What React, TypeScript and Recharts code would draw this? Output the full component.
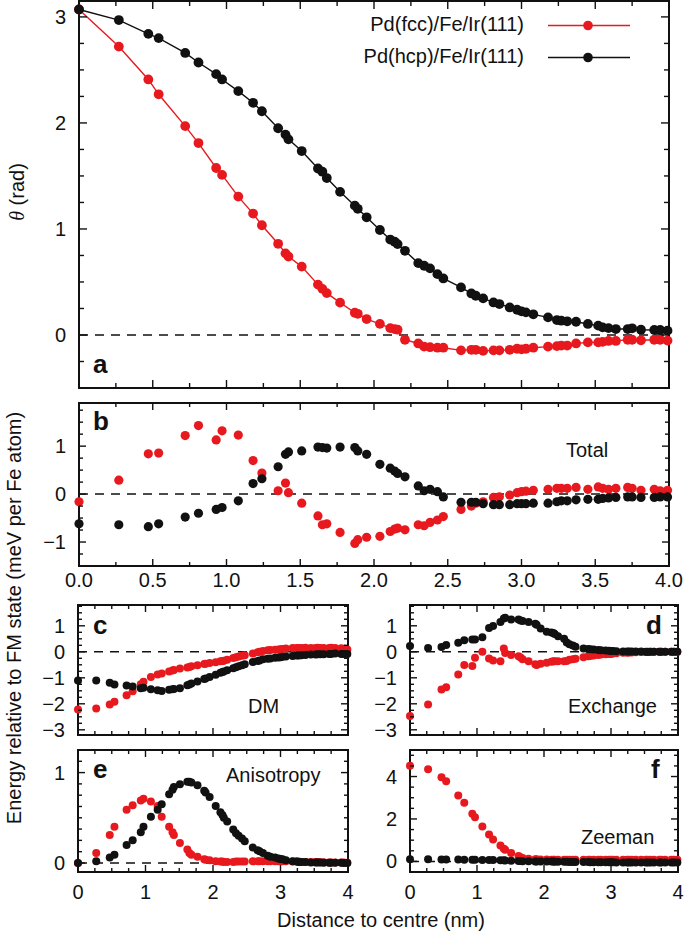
import { ScatterChart, Scatter, XAxis, YAxis, ReferenceLine, ReferenceArea, Legend } from "recharts";

// distance of each Fe site from the skyrmion centre (nm)
const dist = [
  0, 0.27, 0.47, 0.54, 0.72, 0.81, 0.93, 0.97, 1.08, 1.18, 1.24, 1.35, 1.4, 1.42, 1.51, 1.62, 1.65, 1.68, 1.77, 1.87,
  1.89, 1.95, 2.04, 2.11, 2.14, 2.16, 2.21, 2.3, 2.34, 2.38, 2.43, 2.47, 2.59, 2.66, 2.69, 2.74, 2.81, 2.85, 2.92, 2.97,
  3.0, 3.03, 3.08, 3.18, 3.24, 3.27, 3.31, 3.37, 3.45, 3.52, 3.55, 3.59, 3.64, 3.72, 3.75, 3.81, 3.9, 3.94, 3.99,
];

// a: polar angle (rad)
const thetaFcc = [
  3.07, 2.72, 2.41, 2.27, 1.97, 1.81, 1.575, 1.51, 1.305, 1.145, 1.035, 0.86, 0.77, 0.74, 0.645, 0.475, 0.435, 0.395, 0.305, 0.21,
  0.2, 0.15, 0.105, 0.065, 0.055, 0.05, -0.045, -0.08, -0.11, -0.115, -0.12, -0.12, -0.145, -0.14, -0.14, -0.15, -0.145, -0.145, -0.14, -0.13,
  -0.135, -0.13, -0.12, -0.11, -0.105, -0.1, -0.1, -0.08, -0.07, -0.07, -0.065, -0.056, -0.056, -0.045, -0.045, -0.05, -0.045, -0.045, -0.053,
];
const thetaHcp = [
  3.07, 2.97, 2.84, 2.8, 2.66, 2.57, 2.46, 2.41, 2.3, 2.19, 2.11, 1.95, 1.89, 1.845, 1.735, 1.57, 1.54, 1.48, 1.35, 1.22,
  1.19, 1.11, 0.99, 0.9, 0.88, 0.857, 0.794, 0.678, 0.653, 0.628, 0.574, 0.533, 0.449, 0.392, 0.37, 0.345, 0.307, 0.292, 0.26, 0.238,
  0.223, 0.213, 0.195, 0.166, 0.141, 0.135, 0.129, 0.125, 0.104, 0.088, 0.072, 0.065, 0.056, 0.056, 0.063, 0.05, 0.047, 0.047, 0.041,
];

// b: total energy (meV per Fe atom)
const totalFcc = [
  -0.16, 0.29, 0.84, 0.855, 1.22, 1.43, 1.13, 1.32, 1.23, 0.7, 0.44, 0.07, 0.23, 0.03, -0.19, -0.455, -0.64, -0.62, -0.8, -1.03,
  -0.95, -0.9, -0.88, -0.78, -0.73, -0.71, -0.745, -0.64, -0.66, -0.59, -0.54, -0.47, -0.32, -0.25, -0.19, -0.16, -0.07, -0.055, -0.02, 0.03,
  0.05, 0.06, 0.08, 0.1, 0.12, 0.12, 0.12, 0.14, 0.1, 0.15, 0.12, 0.1, 0.12, 0.14, 0.12, 0.08, 0.1, 0.07, 0.08,
];
const totalHcp = [
  -0.62, -0.64, -0.68, -0.62, -0.48, -0.4, -0.32, -0.28, -0.14, 0.22, 0.32, 0.57, 0.83, 0.88, 0.9, 0.98, 0.97, 0.96, 0.98, 0.97,
  0.9, 0.83, 0.62, 0.54, 0.48, 0.43, 0.36, 0.17, 0.07, 0.1, 0.05, -0.06, -0.17, -0.17, -0.17, -0.2, -0.22, -0.22, -0.22, -0.2,
  -0.2, -0.2, -0.19, -0.19, -0.16, -0.14, -0.14, -0.12, -0.11, -0.11, -0.09, -0.08, -0.07, -0.06, -0.06, -0.07, -0.07, -0.06, -0.06,
];

// c: DM
const dmFcc = [
  -2.22, -2.18, -2.03, -1.92, -1.67, -1.52, -1.25, -1.15, -0.97, -0.87, -0.83, -0.76, -0.72, -0.7, -0.64, -0.6, -0.58, -0.56, -0.52, -0.47,
  -0.46, -0.43, -0.4, -0.36, -0.35, -0.34, -0.31, -0.24, -0.21, -0.18, -0.15, -0.13, -0.07, -0.02, 0, 0.03, 0.06, 0.07, 0.08, 0.09,
  0.1, 0.11, 0.13, 0.15, 0.15, 0.15, 0.15, 0.16, 0.15, 0.15, 0.16, 0.15, 0.15, 0.15, 0.16, 0.15, 0.14, 0.12, 0.09,
];
const dmHcp = [
  -1.1, -1.1, -1.19, -1.26, -1.3, -1.33, -1.4, -1.38, -1.44, -1.48, -1.51, -1.46, -1.44, -1.43, -1.4, -1.29, -1.26, -1.22, -1.14, -1.05,
  -1.03, -0.97, -0.88, -0.81, -0.78, -0.76, -0.71, -0.63, -0.59, -0.56, -0.52, -0.48, -0.39, -0.35, -0.33, -0.29, -0.27, -0.26, -0.23, -0.22,
  -0.21, -0.19, -0.18, -0.16, -0.14, -0.14, -0.13, -0.12, -0.1, -0.1, -0.09, -0.09, -0.09, -0.08, -0.08, -0.07, -0.08, -0.08, -0.08,
];

// d: exchange
const exFcc = [
  -2.47, -2.03, -1.45, -1.36, -0.87, -0.51, -0.55, -0.23, 0, -0.26, -0.33, -0.36, 0.13, -0.05, -0.12, -0.17, -0.22, -0.29, -0.36, -0.48,
  -0.51, -0.46, -0.42, -0.38, -0.36, -0.36, -0.36, -0.36, -0.35, -0.31, -0.29, -0.27, -0.21, -0.17, -0.16, -0.14, -0.12, -0.1, -0.09, -0.08,
  -0.08, -0.07, -0.06, -0.04, -0.04, -0.03, -0.03, -0.02, -0.01, -0.01, -0.01, 0, 0, 0, 0, 0, 0, 0, 0,
];
const exHcp = [
  0.22, 0.15, 0.18, 0.26, 0.35, 0.44, 0.47, 0.47, 0.56, 0.92, 0.99, 1.15, 1.28, 1.31, 1.24, 1.24, 1.2, 1.18, 1.15, 1.08,
  1.04, 0.9, 0.77, 0.74, 0.72, 0.68, 0.6, 0.5, 0.36, 0.29, 0.24, 0.19, 0.13, 0.11, 0.1, 0.09, 0.07, 0.06, 0.05, 0.04,
  0.03, 0.03, 0.02, 0.01, 0.01, 0.01, 0.01, 0.01, 0.01, 0, 0, 0, 0, 0, 0, 0, 0, 0, 0,
];

// e: anisotropy
const anFcc = [
  0, 0.11, 0.31, 0.4, 0.59, 0.64, 0.69, 0.71, 0.68, 0.63, 0.51, 0.4, 0.34, 0.31, 0.22, 0.15, 0.11, 0.09, 0.07, 0.04,
  0.035, 0.03, 0.02, 0.015, 0.015, 0.012, 0.012, 0.012, 0.015, 0.015, 0.015, 0.015, 0.018, 0.018, 0.02, 0.02, 0.02, 0.02, 0.02, 0.02,
  0.018, 0.018, 0.018, 0.015, 0.015, 0.015, 0.012, 0.012, 0.01, 0.01, 0.01, 0.008, 0.008, 0.006, 0.006, 0.005, 0.004, 0.004, 0.003,
];
const anHcp = [
  0, 0.02, 0.06, 0.09, 0.2, 0.25, 0.34, 0.4, 0.51, 0.59, 0.65, 0.76, 0.81, 0.84, 0.87, 0.9, 0.9, 0.89, 0.86, 0.8,
  0.78, 0.73, 0.63, 0.56, 0.53, 0.5, 0.46, 0.37, 0.33, 0.3, 0.27, 0.24, 0.17, 0.14, 0.13, 0.11, 0.08, 0.07, 0.06, 0.05,
  0.045, 0.04, 0.03, 0.02, 0.015, 0.012, 0.01, 0.01, 0.005, 0.005, 0.004, 0.004, 0.003, 0.002, 0.002, 0.001, 0.001, 0, 0,
];

// f: Zeeman
const zeeFcc = [
  4.51, 4.34, 3.96, 3.78, 3.11, 2.76, 2.24, 2.08, 1.64, 1.27, 1.03, 0.75, 0.59, 0.55, 0.4, 0.25, 0.2, 0.16, 0.12, 0.1,
  0.1, 0.09, 0.09, 0.08, 0.08, 0.08, 0.08, 0.08, 0.08, 0.08, 0.08, 0.08, 0.08, 0.08, 0.08, 0.08, 0.08, 0.08, 0.08, 0.08,
  0.08, 0.08, 0.08, 0.08, 0.08, 0.08, 0.08, 0.08, 0.08, 0.08, 0.08, 0.08, 0.08, 0.08, 0.08, 0.08, 0.08, 0.08, 0.08,
];
const zeeHcp = [
  0.1, 0.1, 0.09, 0.09, 0.09, 0.08, 0.08, 0.08, 0.07, 0.07, 0.06, 0.05, 0.05, 0.04, 0.03, 0.02, 0.02, 0.01, 0.01, 0,
  0, 0, -0.01, -0.01, -0.01, -0.02, -0.02, -0.02, -0.02, -0.03, -0.03, -0.03, -0.03, -0.03, -0.04, -0.04, -0.04, -0.04, -0.04, -0.04,
  -0.04, -0.04, -0.05, -0.05, -0.05, -0.05, -0.05, -0.05, -0.05, -0.05, -0.05, -0.05, -0.05, -0.05, -0.05, -0.05, -0.05, -0.05, -0.05,
];

const RED = "#e8191e";
const INK = "#111";
const FONT = '"Liberation Sans", Arial, Helvetica, sans-serif';
const FS = 20;

const steps = (from: number, to: number, step: number) => {
  const out: number[] = [];
  for (let v = from; v <= to + 1e-9; v += step) out.push(+v.toFixed(4));
  return out;
};
const toPoints = (ys: number[]) => dist.map((x, i) => ({ x, y: ys[i] }));
const fmtNum = (v: number) => (v < 0 ? "\u2212" + Math.abs(v) : String(v));
const has = (list: number[], v: number) => list.some((m) => Math.abs(m - v) < 1e-6);

const PAD_L = 70;
const PAD_R = 24;
const PAD_T = 12;
const PAD_B = 40;

type PanelProps = {
  left: number;
  top: number;
  w: number;
  h: number;
  yDomain: [number, number];
  yMajor: number[];
  yMinor: number[];
  xMajor: number[];
  xMinor: number[];
  xLabel?: (v: number) => string;
  xGap?: number;
  majorLen: number;
  minorLen: number;
  fcc: number[];
  hcp: number[];
  r: number;
  joined?: boolean;
  legend?: boolean;
};

const Panel = (p: PanelProps) => {
  const xTicks = [...new Set([...p.xMajor, ...p.xMinor])].sort((a, b) => a - b);
  const yTicks = [...new Set([...p.yMajor, ...p.yMinor])].sort((a, b) => a - b);

  // gnuplot style: ticks point inwards and are mirrored on the opposite border
  const renderXTick = (t: any) => {
    const v = t.payload.value;
    const major = has(p.xMajor, v);
    const len = major ? p.majorLen : p.minorLen;
    return (
      <g key={`x${v}`}>
        <line x1={t.x} x2={t.x} y1={t.y} y2={t.y - len} stroke={INK} strokeWidth={1.4} />
        <line x1={t.x} x2={t.x} y1={t.y - p.h} y2={t.y - p.h + len} stroke={INK} strokeWidth={1.4} />
        {major && p.xLabel && (
          <text x={t.x} y={t.y + (p.xGap ?? 21)} textAnchor="middle" fontSize={FS} fontFamily={FONT} fill={INK}>
            {p.xLabel(v)}
          </text>
        )}
      </g>
    );
  };

  const renderYTick = (t: any) => {
    const v = t.payload.value;
    const major = has(p.yMajor, v);
    const len = major ? p.majorLen : p.minorLen;
    return (
      <g key={`y${v}`}>
        <line x1={t.x} x2={t.x + len} y1={t.y} y2={t.y} stroke={INK} strokeWidth={1.4} />
        <line x1={t.x + p.w} x2={t.x + p.w - len} y1={t.y} y2={t.y} stroke={INK} strokeWidth={1.4} />
        {major && (
          <text x={t.x - 13} y={t.y + 7} textAnchor="end" fontSize={FS} fontFamily={FONT} fill={INK}>
            {fmtNum(v)}
          </text>
        )}
      </g>
    );
  };

  const dot = (color: string) => (s: any) => <circle cx={s.cx} cy={s.cy} r={p.r} fill={color} />;

  const renderLegend = (props: any) => (
    <svg width={300} height={70}>
      {(props.payload || []).map((e: any, i: number) => {
        const base = 31 + 32 * i;
        return (
          <g key={e.value}>
            <text x={184} y={base} textAnchor="end" fontSize={FS} fontFamily={FONT} fill={INK}>
              {e.value}
            </text>
            <line x1={208} x2={290} y1={base - 5.5} y2={base - 5.5} stroke={e.color} strokeWidth={1.4} />
            <circle cx={248} cy={base - 5.5} r={4.8} fill={e.color} />
          </g>
        );
      })}
    </svg>
  );

  return (
    <div style={{ position: "absolute", left: p.left - PAD_L, top: p.top - PAD_T }}>
      <ScatterChart
        width={p.w + PAD_L + PAD_R}
        height={p.h + PAD_T + PAD_B}
        margin={{ top: PAD_T, right: PAD_R, bottom: 0, left: 0 }}
      >
        <XAxis
          type="number"
          dataKey="x"
          domain={[0, 4]}
          ticks={xTicks}
          interval={0}
          tickSize={0}
          tickMargin={0}
          tickLine={false}
          axisLine={false}
          height={PAD_B}
          tick={renderXTick}
        />
        <YAxis
          type="number"
          dataKey="y"
          domain={p.yDomain}
          ticks={yTicks}
          interval={0}
          width={PAD_L}
          tickSize={0}
          tickMargin={0}
          tickLine={false}
          axisLine={false}
          tick={renderYTick}
        />
        <ReferenceLine y={0} stroke={INK} strokeWidth={1.5} strokeDasharray="9 7" />
        <ReferenceArea
          x1={0}
          x2={4}
          y1={p.yDomain[0]}
          y2={p.yDomain[1]}
          fill="none"
          fillOpacity={0}
          stroke={INK}
          strokeWidth={2}
        />
        <Scatter
          name="Pd(fcc)/Fe/Ir(111)"
          data={toPoints(p.fcc)}
          fill={RED}
          shape={dot(RED)}
          line={p.joined ? { stroke: RED, strokeWidth: 1.4 } : false}
          isAnimationActive={false}
        />
        <Scatter
          name="Pd(hcp)/Fe/Ir(111)"
          data={toPoints(p.hcp)}
          fill={INK}
          shape={dot(INK)}
          line={p.joined ? { stroke: INK, strokeWidth: 1.4 } : false}
          isAnimationActive={false}
        />
        {p.legend && (
          <Legend
            layout="horizontal"
            verticalAlign="middle"
            align="center"
            wrapperStyle={{ left: 340 - (p.left - PAD_L), top: 0 - (p.top - PAD_T), width: 300, height: 70 }}
            content={renderLegend}
          />
        )}
      </ScatterChart>
    </div>
  );
};

const xMajorA = [0, 0.5, 1, 1.5, 2, 2.5, 3, 3.5, 4];
const xMinorA = steps(0, 4, 0.25);
const xMajorSmall = [0, 1, 2, 3, 4];
const xMinorSmall = steps(0, 4, 0.25);

const labelStyle = { fontFamily: FONT, fontSize: FS, fill: INK } as const;
const letterStyle = { fontFamily: FONT, fontSize: 26, fontWeight: 700, fill: INK } as const;

export default function App() {
  return (
    <div style={{ position: "absolute", left: 0, top: 0, width: 685, height: 931, background: "#fff", overflow: "hidden" }}>
      <Panel
        left={79}
        top={1}
        w={590}
        h={387}
        yDomain={[-0.5, 3.15]}
        yMajor={[0, 1, 2, 3]}
        yMinor={steps(-0.5, 3, 0.25)}
        xMajor={xMajorA}
        xMinor={xMinorA}
        majorLen={8}
        minorLen={5}
        fcc={thetaFcc}
        hcp={thetaHcp}
        r={4.9}
        joined
        legend
      />
      <Panel
        left={79}
        top={403}
        w={590}
        h={163}
        yDomain={[-1.5, 1.9]}
        yMajor={[-1, 0, 1]}
        yMinor={steps(-1.5, 1.75, 0.25)}
        xMajor={xMajorA}
        xMinor={xMinorA}
        xLabel={(v) => v.toFixed(1)}
        xGap={21}
        majorLen={7}
        minorLen={4}
        fcc={totalFcc}
        hcp={totalHcp}
        r={4.6}
      />
      <Panel
        left={78}
        top={605}
        w={270}
        h={130}
        yDomain={[-3.2, 1.8]}
        yMajor={[-3, -2, -1, 0, 1]}
        yMinor={steps(-3, 1.75, 0.25)}
        xMajor={xMajorSmall}
        xMinor={xMinorSmall}
        majorLen={7}
        minorLen={4}
        fcc={dmFcc}
        hcp={dmHcp}
        r={4}
      />
      <Panel
        left={410}
        top={605}
        w={268}
        h={130}
        yDomain={[-3.2, 1.8]}
        yMajor={[-3, -2, -1, 0, 1]}
        yMinor={steps(-3, 1.75, 0.25)}
        xMajor={xMajorSmall}
        xMinor={xMinorSmall}
        majorLen={7}
        minorLen={4}
        fcc={exFcc}
        hcp={exHcp}
        r={4}
      />
      <Panel
        left={78}
        top={750}
        w={270}
        h={122}
        yDomain={[-0.1, 1.25]}
        yMajor={[0, 1]}
        yMinor={steps(0, 1.25, 0.125)}
        xMajor={xMajorSmall}
        xMinor={xMinorSmall}
        xLabel={(v) => String(v)}
        xGap={27}
        majorLen={7}
        minorLen={4}
        fcc={anFcc}
        hcp={anHcp}
        r={4}
      />
      <Panel
        left={410}
        top={750}
        w={268}
        h={122}
        yDomain={[-0.5, 5.25]}
        yMajor={[0, 2, 4]}
        yMinor={steps(0, 5, 0.5)}
        xMajor={xMajorSmall}
        xMinor={xMinorSmall}
        xLabel={(v) => String(v)}
        xGap={27}
        majorLen={7}
        minorLen={4}
        fcc={zeeFcc}
        hcp={zeeHcp}
        r={4}
      />

      <svg width={685} height={931} style={{ position: "absolute", left: 0, top: 0, pointerEvents: "none" }}>
        <text transform="translate(24,192) rotate(-90)" textAnchor="middle" {...labelStyle}>
          <tspan fontStyle="italic" fontFamily='"Liberation Serif", serif'>θ</tspan> (rad)
        </text>
        <text transform="translate(21,618) rotate(-90)" textAnchor="middle" {...labelStyle}>
          Energy relative to FM state (meV per Fe atom)
        </text>
        <text x={381} y={927} textAnchor="middle" {...labelStyle}>
          Distance to centre (nm)
        </text>

        <text x={93} y={373} {...letterStyle}>a</text>
        <text x={93} y={430} {...letterStyle}>b</text>
        <text x={93} y={634} {...letterStyle}>c</text>
        <text x={646} y={634} {...letterStyle}>d</text>
        <text x={93} y={778} {...letterStyle}>e</text>
        <text x={651} y={778} {...letterStyle}>f</text>

        <text x={566} y={457} {...labelStyle}>Total</text>
        <text x={248} y={713} {...labelStyle}>DM</text>
        <text x={568} y={713} {...labelStyle}>Exchange</text>
        <text x={226} y={782} {...labelStyle}>Anisotropy</text>
        <text x={581} y={844} {...labelStyle}>Zeeman</text>
      </svg>
    </div>
  );
}
